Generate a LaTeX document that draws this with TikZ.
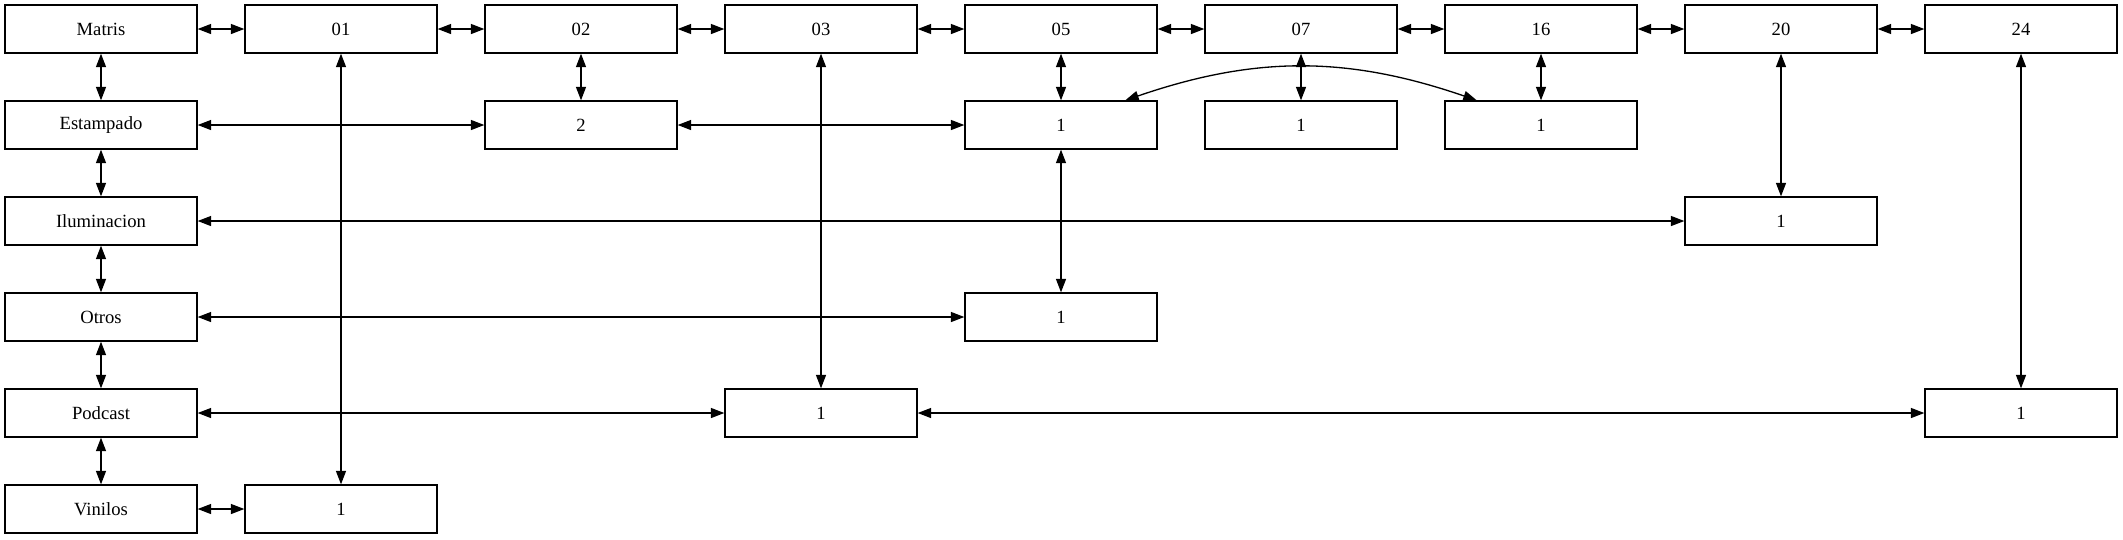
\documentclass[tikz,border=0pt]{standalone}
\usepackage{fontspec}
\setmainfont{Liberation Serif}
\usetikzlibrary{arrows.meta}

\tikzset{
  caja/.style={draw, line width=0.75pt, minimum width=3.84cm, minimum height=0.96cm, inner sep=0pt, font=\fontsize{10.6}{12}\selectfont},
  flecha/.style={line width=0.75pt, {Triangle[length=0.27cm,width=0.2cm]}-{Triangle[length=0.27cm,width=0.2cm]}}
}

\begin{document}
\begin{tikzpicture}[x=0.02cm, y=-0.02cm]
\useasboundingbox (0,0) rectangle (2123,539);

\node[caja](mat) at (101,29) {Matris};
\node[caja](c01) at (341,29) {01};
\node[caja](c02) at (581,29) {02};
\node[caja](c03) at (821,29) {03};
\node[caja](c05) at (1061,29) {05};
\node[caja](c07) at (1301,29) {07};
\node[caja](c16) at (1541,29) {16};
\node[caja](c20) at (1781,29) {20};
\node[caja](c24) at (2021,29) {24};

\node[caja](est) at (101,125) {Estampado};
\node[caja](ilu) at (101,221) {Iluminacion};
\node[caja](otr) at (101,317) {Otros};
\node[caja](pod) at (101,413) {Podcast};
\node[caja](vin) at (101,509) {Vinilos};

\node[caja](e02) at (581,125) {2};
\node[caja](e05) at (1061,125) {1};
\node[caja](e07) at (1301,125) {1};
\node[caja](e16) at (1541,125) {1};
\node[caja](i20) at (1781,221) {1};
\node[caja](o05) at (1061,317) {1};
\node[caja](p03) at (821,413) {1};
\node[caja](p24) at (2021,413) {1};
\node[caja](v01) at (341,509) {1};

% fila de arriba
\draw[flecha] (mat) -- (c01);
\draw[flecha] (c01) -- (c02);
\draw[flecha] (c02) -- (c03);
\draw[flecha] (c03) -- (c05);
\draw[flecha] (c05) -- (c07);
\draw[flecha] (c07) -- (c16);
\draw[flecha] (c16) -- (c20);
\draw[flecha] (c20) -- (c24);

% columna de la izquierda
\draw[flecha] (mat) -- (est);
\draw[flecha] (est) -- (ilu);
\draw[flecha] (ilu) -- (otr);
\draw[flecha] (otr) -- (pod);
\draw[flecha] (pod) -- (vin);

\draw[flecha] (c01) -- (v01);
\draw[flecha] (vin) -- (v01);
\draw[flecha] (c02) -- (e02);
\draw[flecha] (est) -- (e02);
\draw[flecha] (e02) -- (e05);
\draw[flecha] (c03) -- (p03);
\draw[flecha] (pod) -- (p03);
\draw[flecha] (p03) -- (p24);
\draw[flecha] (c05) -- (e05);
\draw[flecha] (e05) -- (o05);
\draw[flecha] (otr) -- (o05);
\draw[flecha] (c07) -- (e07);
\draw[flecha] (c16) -- (e16);
\draw[flecha] (e05.21) to[bend left=19] (e16.159);
\draw[flecha] (c20) -- (i20);
\draw[flecha] (ilu) -- (i20);
\draw[flecha] (c24) -- (p24);

\end{tikzpicture}
\end{document}
